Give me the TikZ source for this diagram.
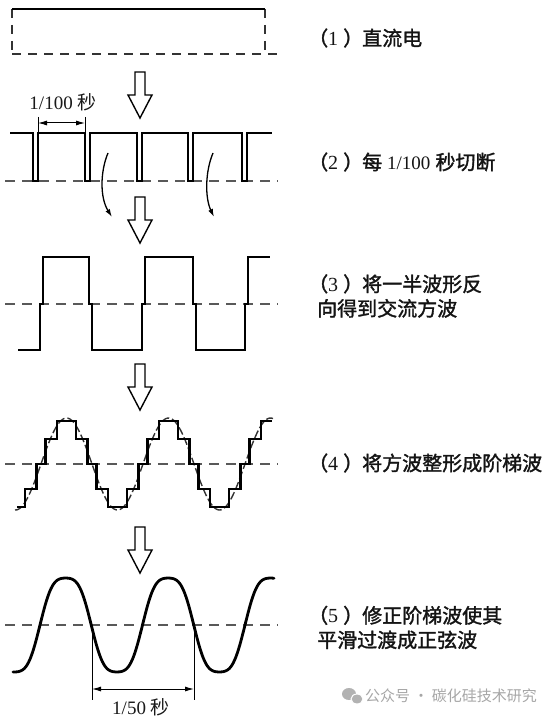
\documentclass[tikz,border=0pt]{standalone}
\usepackage{fontspec}
\setmainfont{Liberation Serif}
\newfontfamily\cjk{Noto Sans CJK SC}[FakeBold=1.6]
\newfontfamily\cjkwm{Noto Sans CJK SC}
\usetikzlibrary{arrows.meta}
\newcommand\digs[1]{{\fontsize{19}{22}\selectfont #1}}
\newcommand\lpar{\kern-9pt{\cjk （}}
\newcommand\rpar{\kern5pt{\cjk ）}\kern-1pt}
\begin{document}
\begin{tikzpicture}[x=1pt,y=-1pt,
  wave/.style={line width=2.8pt, line join=miter, line cap=butt},
  wavethin/.style={line width=2.3pt, line join=miter},
  zeroline/.style={line width=1.1pt, draw=black!65, dash pattern=on 10pt off 7pt},
  dcdash/.style={line width=1.6pt, draw=black!80, dash pattern=on 9pt off 7pt},
  sinedash/.style={line width=1.4pt, draw=black!80, dash pattern=on 8pt off 3pt},
  hollow/.style={draw, line width=1.4pt, fill=white, line join=miter},
  extline/.style={line width=0.8pt},
  dimarrow/.style={line width=1pt, {Latex[length=9pt,width=5pt]}-{Latex[length=9pt,width=5pt]}},
  curvearrow/.style={line width=1.3pt, -{Latex[length=8pt,width=5pt]}},
  lbl/.style={anchor=west, inner sep=0pt, align=left, text=black!92,
    font=\fontsize{20}{24.5}\selectfont},
  dimlbl/.style={inner sep=0pt, text=black!90, font=\fontsize{19}{22}\selectfont},
  wm/.style={anchor=west, inner sep=0pt, text=black!35, font=\cjkwm\fontsize{15}{18}\selectfont}
]
\useasboundingbox (0,0) rectangle (554,719);

% ---------- (1) DC ----------
\draw[dcdash] (12,9) -- (12,54);
\draw[dcdash] (265,9) -- (265,54);
\draw[dcdash] (12,54) -- (277,54);
\draw[wave] (12,9) -- (265,9);
\node[lbl] (t1) at (317,38) {\lpar 1\rpar{\cjk 直流电}};

% hollow arrows
\foreach \t in {72,197,364,527}{
  \draw[hollow] (135,\t) -- (145,\t) -- (145,\t+23) -- (152,\t+23) -- (140,\t+46)
     -- (128,\t+23) -- (135,\t+23) -- cycle;
}

% ---------- (2) chopped ----------
\draw[zeroline] (5,181) -- (278,181);
\draw[wavethin] (10,133) -- (33,133) -- (33,181) -- (38,181) -- (38,133)
  -- (85,133) -- (85,181) -- (90,181) -- (90,133)
  -- (137,133) -- (137,181) -- (142,181) -- (142,133)
  -- (188,133) -- (188,181) -- (193,181) -- (193,133)
  -- (242,133) -- (242,181) -- (247,181) -- (247,133) -- (272,133);
\coordinate (e1a) at (38,117);
\coordinate (e1b) at (38,132);
\coordinate (e2a) at (85,117);
\coordinate (e2b) at (85,132);
\draw[extline] (e1a) -- (e1b);
\draw[extline] (e2a) -- (e2b);
\coordinate (d1a) at (38,123);
\coordinate (d1b) at (85,123);
\draw[dimarrow] (d1a) -- (d1b);
\node[dimlbl] (dl1) at (63,102) {1/100 {\cjkwm 秒}};
\coordinate (c1s) at (108,153);
\coordinate (c1e) at (112,217);
\coordinate (c2s) at (213,153);
\coordinate (c2e) at (214,217);
\draw[curvearrow] (c1s) .. controls (100,172) and (100,198) .. (c1e);
\draw[curvearrow] (c2s) .. controls (205,172) and (205,198) .. (c2e);
\node[lbl] (t2) at (317,162) {\lpar 2\rpar{\cjk 每} \digs{1/100} {\cjk 秒切断}};

% ---------- (3) square wave ----------
\draw[zeroline] (5,304) -- (278,304);
\draw[wave] (18,350) -- (40,350) -- (40,304) -- (43,304) -- (43,257) -- (89,257)
  -- (89,304) -- (92,304) -- (92,350) -- (142,350) -- (142,304) -- (145,304)
  -- (145,257) -- (193,257) -- (193,304) -- (196,304) -- (196,350) -- (245,350)
  -- (245,304) -- (248,304) -- (248,257) -- (270,257);
\node[lbl] (t3) at (317,296) {\lpar 3\rpar{\cjk 将一半波形反}\\{\cjk 向得到交流方波}};

% ---------- (4) stepped wave ----------
\draw[zeroline] (5,464) -- (278,464);
\draw[sinedash] plot[domain=15:273, samples=160, smooth]
  (\x, {464-46*sin((\x-41)/102*360)});
\draw[wave] (17,507) -- (25,507) -- (25,489) -- (36.5,489) -- (36.5,464) -- (45.5,464)
  -- (45.5,439) -- (57,439) -- (57,421) -- (76,421) -- (76,439) -- (87.5,439)
  -- (87.5,464) -- (96.5,464) -- (96.5,489) -- (108,489) -- (108,507) -- (127,507)
  -- (127,489) -- (138.5,489) -- (138.5,464) -- (147.5,464) -- (147.5,439) -- (159,439)
  -- (159,421) -- (178,421) -- (178,439) -- (189.5,439) -- (189.5,464) -- (198.5,464)
  -- (198.5,489) -- (210,489) -- (210,507) -- (229,507) -- (229,489) -- (240.5,489)
  -- (240.5,464) -- (249.5,464) -- (249.5,439) -- (261,439) -- (261,421) -- (272,421);
\node[lbl] (t4) at (317,463) {\lpar 4\rpar{\cjk 将方波整形成阶梯波}};

% ---------- (5) sine ----------
\draw[zeroline] (5,625) -- (278,625);
\draw[wave, line cap=round] plot[domain=13:274, samples=200, smooth]
  (\x, {625-51.6*(sin((\x-40)/102.5*360)+0.09*sin((\x-40)/102.5*1080))});
\coordinate (e3a) at (92,625);
\coordinate (e3b) at (92,700);
\coordinate (e4a) at (194,625);
\coordinate (e4b) at (194,700);
\draw[extline] (e3a) -- (e3b);
\draw[extline] (e4a) -- (e4b);
\coordinate (d2a) at (92,689);
\coordinate (d2b) at (194,689);
\draw[dimarrow] (d2a) -- (d2b);
\node[dimlbl] (dl2) at (141,707) {1/50 {\cjkwm 秒}};
\node[lbl] (t5) at (317,627.5) {\lpar 5\rpar{\cjk 修正阶梯波使其}\\{\cjk 平滑过渡成正弦波}};

% ---------- watermark ----------
\fill[black!30] (349,694) ellipse [x radius=7, y radius=6];
\filldraw[black!30, draw=white, line width=1pt] (357,699) ellipse [x radius=6, y radius=5];
\node[wm] (wmk) at (365,696) {公众号 · 碳化硅技术研究};
\end{tikzpicture}
\end{document}
